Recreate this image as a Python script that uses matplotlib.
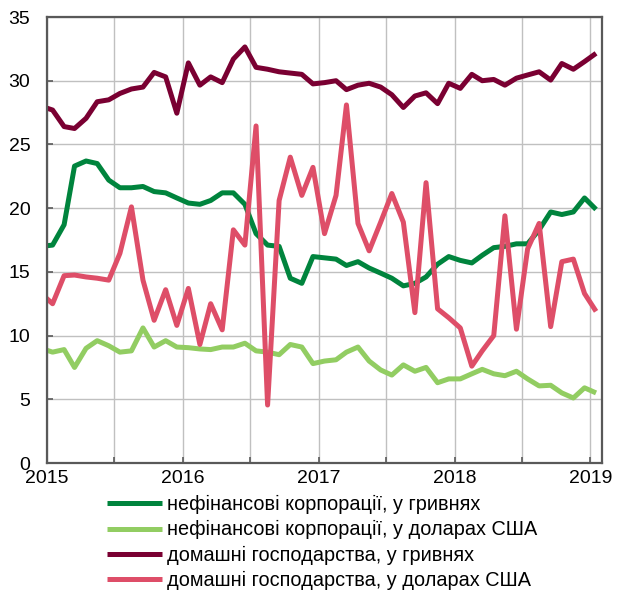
import matplotlib
matplotlib.use("Agg")
import matplotlib.pyplot as plt
import matplotlib.dates as mdates
import pandas as pd

plt.rcParams['font.family'] = ['Liberation Sans', 'DejaVu Sans']

# Monthly observations, Dec 2014 .. Jan 2019 (first point clipped by axis)
months = pd.date_range('2014-12-01', '2019-01-01', freq='MS') + pd.Timedelta(days=15)

nfc_uah = [17.0, 17.1, 18.7, 23.3, 23.7, 23.5, 22.2, 21.6, 21.6, 21.7, 21.3, 21.2, 20.8,
           20.4, 20.3, 20.6, 21.2, 21.2, 20.3, 18.0, 17.1, 17.0, 14.5, 14.1, 16.2,
           16.1, 16.0, 15.5, 15.8, 15.3, 14.9, 14.5, 13.9, 14.1, 14.6, 15.6, 16.2,
           15.9, 15.7, 16.3, 16.9, 17.0, 17.2, 17.2, 18.3, 19.7, 19.5, 19.7, 20.8, 19.9]

nfc_usd = [9.0, 8.7, 8.9, 7.5, 9.0, 9.6, 9.2, 8.7, 8.8, 10.6, 9.1, 9.6, 9.1,
           9.05, 8.95, 8.9, 9.1, 9.1, 9.4, 8.8, 8.7, 8.5, 9.3, 9.1, 7.8,
           8.0, 8.1, 8.7, 9.1, 8.0, 7.3, 6.9, 7.7, 7.2, 7.5, 6.3, 6.6,
           6.6, 7.0, 7.35, 7.0, 6.85, 7.2, 6.6, 6.05, 6.1, 5.5, 5.1, 5.9, 5.5]

hh_uah = [28.0, 27.7, 26.4, 26.25, 27.05, 28.35, 28.5, 29.0, 29.35, 29.5, 30.65, 30.3, 27.45,
          31.4, 29.65, 30.3, 29.85, 31.7, 32.65, 31.05, 30.9, 30.7, 30.6, 30.5, 29.75,
          29.85, 30.0, 29.3, 29.65, 29.8, 29.5, 28.9, 27.9, 28.8, 29.05, 28.2, 29.8,
          29.4, 30.5, 30.0, 30.1, 29.65, 30.2, 30.45, 30.7, 30.05, 31.35, 30.9, 31.5, 32.15]

hh_usd = [13.3, 12.5, 14.7, 14.75, 14.6, 14.5, 14.35, 16.45, 20.1, 14.35, 11.2, 13.6, 10.8,
          13.7, 9.3, 12.5, 10.45, 18.3, 17.1, 26.45, 4.55, 20.6, 24.0, 21.0, 23.2,
          18.0, 21.0, 28.1, 18.8, 16.65, 18.9, 21.15, 18.9, 11.8, 22.0, 12.1, 11.4,
          10.6, 7.6, 8.8, 10.0, 19.4, 10.5, 16.8, 18.8, 10.7, 15.8, 16.0, 13.3, 11.9]

labels = ['нефінансові корпорації, у гривнях',
          'нефінансові корпорації, у доларах США',
          'домашні господарства, у гривнях',
          'домашні господарства, у доларах США']
colors = ['#00843D', '#92CD62', '#7A0032', '#DE4E68']
series = [nfc_uah, nfc_usd, hh_uah, hh_usd]

yticks = [0, 5, 10, 15, 20, 25, 30, 35]

fig = plt.figure(figsize=(6.21, 5.91), dpi=100)
ax = fig.add_axes([47/621, 1-463/591, (602-47)/621, (463-17)/591])

for vals, c, lab in zip(series, colors, labels):
    ax.plot(months, vals, color=c, lw=3.6, label=lab, solid_joinstyle='round',
            solid_capstyle='butt')

ax.set_ylim(0, 35)
ax.set_yticks(yticks)
ax.set_xlim(pd.Timestamp('2015-01-01'), pd.Timestamp('2019-02-01'))
ax.xaxis.set_major_locator(mdates.YearLocator())
ax.xaxis.set_major_formatter(mdates.DateFormatter('%Y'))
ax.xaxis.set_minor_locator(mdates.MonthLocator(bymonth=7))

ax.grid(True, which='both', axis='x', color='#C0C0C0', lw=1)
ax.grid(True, which='major', axis='y', color='#C0C0C0', lw=1)
ax.set_axisbelow(True)

for s in ax.spines.values():
    s.set_color('#595959')
    s.set_linewidth(1.6)

ax.tick_params(axis='both', which='both', direction='in', length=4, width=1.2,
               color='#595959', labelsize=14)
ax.tick_params(axis='y', pad=12)
ax.tick_params(axis='x', which='major', pad=5)

leg = fig.legend(loc='upper center', bbox_to_anchor=(322/621, 1-495/591), frameon=False,
                 fontsize=14.3, handlelength=2.8, handletextpad=0.25, labelspacing=0.32,
                 borderpad=0, borderaxespad=0)
plt.savefig('out.png', dpi=100)
